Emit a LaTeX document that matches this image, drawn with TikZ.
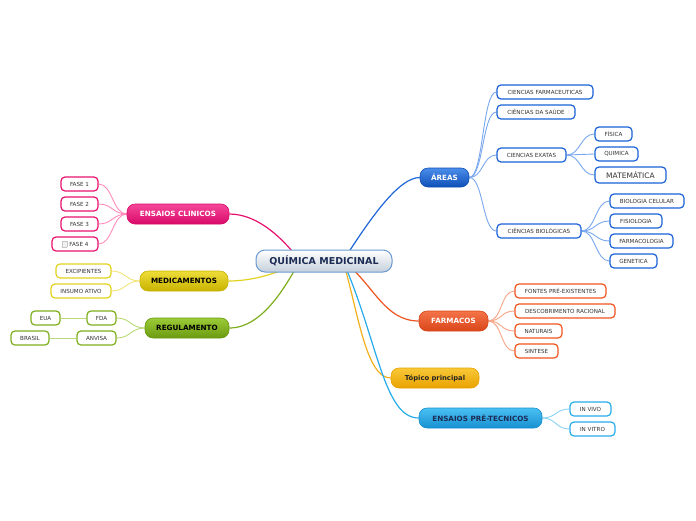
\documentclass[tikz,border=0pt]{standalone}
\usepackage{fontspec}
\setmainfont{DejaVu Sans}
\usetikzlibrary{backgrounds}
\definecolor{cBlue}{HTML}{1A62D6}
\definecolor{cBlueL}{HTML}{7AA8EE}
\definecolor{cBlueLine}{HTML}{1F66D8}
\definecolor{cBlueTop}{HTML}{4A8EEA}
\definecolor{cBlueBot}{HTML}{0F4FB8}
\definecolor{cPink}{HTML}{E8136F}
\definecolor{cPinkL}{HTML}{FF8CBB}
\definecolor{cPinkTop}{HTML}{F5479A}
\definecolor{cPinkBot}{HTML}{D80A68}
\definecolor{cYel}{HTML}{E3D21E}
\definecolor{cYelL}{HTML}{F2E57A}
\definecolor{cYelTop}{HTML}{EEDD3A}
\definecolor{cYelBot}{HTML}{C9B300}
\definecolor{cGrn}{HTML}{7DAE1C}
\definecolor{cGrnL}{HTML}{BAD97A}
\definecolor{cGrnTop}{HTML}{9CCB38}
\definecolor{cGrnBot}{HTML}{6A9A10}
\definecolor{cOrg}{HTML}{F0541E}
\definecolor{cOrgL}{HTML}{F8A585}
\definecolor{cOrgTop}{HTML}{F47448}
\definecolor{cOrgBot}{HTML}{D9461A}
\definecolor{cGold}{HTML}{F2B01C}
\definecolor{cGoldTop}{HTML}{F8C838}
\definecolor{cGoldBot}{HTML}{E9A200}
\definecolor{cSky}{HTML}{27ACEB}
\definecolor{cSkyL}{HTML}{8AD3F5}
\definecolor{cSkyTop}{HTML}{4AC0F2}
\definecolor{cSkyBot}{HTML}{1790D2}
\definecolor{cCenBorder}{HTML}{6A9AD0}
\definecolor{cCenBot}{HTML}{C5D0DB}
\definecolor{cCenText}{HTML}{1C2C55}
\definecolor{leaftext}{HTML}{333333}
\begin{document}
\begin{tikzpicture}[x=1pt,y=-1pt,
  leaf/.style={draw, line width=1.2pt, rounded corners=4pt, fill=white,
    minimum height=14pt, inner xsep=2pt, inner ysep=0pt,
    font=\fontsize{5.6}{6.5}\selectfont, text=leaftext},
  mainnode/.style={rounded corners=8pt, minimum height=20pt, inner xsep=2pt,
    inner ysep=0pt, font=\bfseries\fontsize{7.2}{8.5}\selectfont, draw, line width=0.6pt},
  branch/.style={line width=1.2pt},
  twig/.style={line width=0.9pt}
]
\useasboundingbox (0,0) rectangle (696,520);

% central node
\node[draw=cCenBorder, line width=1pt, rounded corners=9pt, top color=white, bottom color=cCenBot,
  minimum width=136pt, minimum height=22pt, inner sep=0pt, text=cCenText,
  font=\bfseries\fontsize{9.5}{11}\selectfont] (c) at (324,261) {QUÍMICA MEDICINAL};
\coordinate (cr) at ([xshift=19pt]c.center);
\coordinate (cl) at ([xshift=-24pt]c.center);

% ÁREAS
\node[mainnode, draw=cBlueBot, top color=cBlueTop, bottom color=cBlueBot, text=white, minimum width=49pt, minimum height=19pt] (areas) at (444.5,177.5) {ÁREAS};
\node[leaf, draw=cBlue, minimum width=96pt] (cf) at (545,92) {CIENCIAS FARMACEUTICAS};
\node[leaf, draw=cBlue, minimum width=78pt] (cs) at (536,112) {CIÊNCIAS DA SAÚDE};
\node[leaf, draw=cBlue, minimum width=69pt] (ce) at (531.5,155) {CIENCIAS EXATAS};
\node[leaf, draw=cBlue, minimum width=37pt] (fis) at (613.5,134) {FÍSICA};
\node[leaf, draw=cBlue, minimum width=43pt] (qui) at (616.5,154) {QUIMICA};
\node[leaf, draw=cBlue, minimum width=71pt, minimum height=16pt, font=\fontsize{7.5}{9}\selectfont] (mat) at (630.5,175) {MATEMÁTICA};
\node[leaf, draw=cBlue, minimum width=84pt] (cb) at (539,231) {CIÊNCIAS BIOLÓGICAS};
\node[leaf, draw=cBlue, minimum width=74pt] (bc) at (647,201) {BIOLOGIA CELULAR};
\node[leaf, draw=cBlue, minimum width=52pt] (fisio) at (636,221) {FISIOLOGIA};
\node[leaf, draw=cBlue, minimum width=63pt] (farmac) at (641.5,241) {FARMACOLOGIA};
\node[leaf, draw=cBlue, minimum width=47pt] (gen) at (633.5,261) {GENETICA};

% FARMACOS
\node[mainnode, draw=cOrgBot, top color=cOrgTop, bottom color=cOrgBot, text=white, minimum width=69pt] (farmacos) at (453.5,321) {FARMACOS};
\node[leaf, draw=cOrg, minimum width=91pt] (fpe) at (560.5,291) {FONTES PRÉ-EXISTENTES};
\node[leaf, draw=cOrg, minimum width=100pt] (dr) at (565,311) {DESCOBRIMENTO RACIONAL};
\node[leaf, draw=cOrg, minimum width=47pt] (nat) at (538.5,331) {NATURAIS};
\node[leaf, draw=cOrg, minimum width=43pt] (sin) at (536.5,351) {SINTESE};

% Tópico principal
\node[mainnode, draw=cGoldBot, top color=cGoldTop, bottom color=cGoldBot, text=black!85, minimum width=88pt, font=\bfseries\fontsize{6.8}{8}\selectfont] (topico) at (435,378) {Tópico principal};

% ENSAIOS PRÉ-TECNICOS
\node[mainnode, draw=cSkyBot, top color=cSkyTop, bottom color=cSkyBot, text=cCenText, minimum width=123pt] (pretec) at (480.5,418) {ENSAIOS PRÉ-TECNICOS};
\node[leaf, draw=cSky, minimum width=41pt] (vivo) at (590.5,409) {IN VIVO};
\node[leaf, draw=cSky, minimum width=45pt] (vitro) at (592.5,429) {IN VITRO};

% ENSAIOS CLINICOS
\node[mainnode, draw=cPinkBot, top color=cPinkTop, bottom color=cPinkBot, text=white, minimum width=102pt] (clin) at (178,214) {ENSAIOS CLINICOS};
\node[leaf, draw=cPink, minimum width=37pt] (f1) at (79.5,184) {FASE 1};
\node[leaf, draw=cPink, minimum width=37pt] (f2) at (79.5,204) {FASE 2};
\node[leaf, draw=cPink, minimum width=37pt] (f3) at (79.5,224) {FASE 3};
\node[leaf, draw=cPink, minimum width=46pt] (f4) at (75,244) {{\setlength\fboxsep{0pt}\setlength\fboxrule{0.4pt}\fcolorbox{gray!45}{gray!12}{\rule{5pt}{0pt}\rule{0pt}{5pt}}}\hspace{2pt}FASE 4};

% MEDICAMENTOS
\node[mainnode, draw=cYelBot, top color=cYelTop, bottom color=cYelBot, text=black, minimum width=88pt] (med) at (184,281) {MEDICAMENTOS};
\node[leaf, draw=cYel, minimum width=55pt] (exc) at (83.5,271) {EXCIPIENTES};
\node[leaf, draw=cYel, minimum width=60pt] (ins) at (81,291) {INSUMO ATIVO};

% REGULAMENTO
\node[mainnode, draw=cGrnBot, top color=cGrnTop, bottom color=cGrnBot, text=black, minimum width=84pt] (reg) at (187,328) {REGULAMENTO};
\node[leaf, draw=cGrn, minimum width=29pt] (fda) at (101.5,318) {FDA};
\node[leaf, draw=cGrn, minimum width=29pt] (eua) at (45.5,318) {EUA};
\node[leaf, draw=cGrn, minimum width=39pt] (anv) at (96.5,338) {ANVISA};
\node[leaf, draw=cGrn, minimum width=38pt] (bra) at (30,338) {BRASIL};

\begin{pgfonlayer}{background}
\fill[white] (0,0) rectangle (696,520);
% main branches
\draw[branch, cBlueLine] (cr) .. controls +(30,-47) and +(-20,0) .. (areas.west);
\draw[branch, cOrg] (cr) .. controls +(30,22) and +(-35,0) .. (farmacos.west);
\draw[branch, cGold] (cr) .. controls +(15,50) and +(-25,0) .. (topico.west);
\draw[branch, cSky] (cr) .. controls +(35,80) and +(-35,0) .. (pretec.west);
\draw[branch, cPink] (cl) .. controls +(-15,-20) and +(30,0) .. (clin.east);
\draw[branch, cYel] (cl) .. controls +(-20,12) and +(25,0) .. (med.east);
\draw[branch, cGrn] (cl) .. controls +(-12,20) and +(35,0) .. (reg.east);
% twigs right
\foreach \ch in {cf,cs,ce,cb}
  \draw[twig, cBlueL] (areas.east) .. controls +(14,0) and +(-14,0) .. (\ch.west);
\foreach \ch in {fis,qui,mat}
  \draw[twig, cBlueL] (ce.east) .. controls +(14,0) and +(-14,0) .. (\ch.west);
\foreach \ch in {bc,fisio,farmac,gen}
  \draw[twig, cBlueL] (cb.east) .. controls +(14,0) and +(-14,0) .. (\ch.west);
\foreach \ch in {fpe,dr,nat,sin}
  \draw[twig, cOrgL] (farmacos.east) .. controls +(14,0) and +(-14,0) .. (\ch.west);
\foreach \ch in {vivo,vitro}
  \draw[twig, cSkyL] (pretec.east) .. controls +(14,0) and +(-14,0) .. (\ch.west);
% twigs left
\foreach \ch in {f1,f2,f3,f4}
  \draw[twig, cPinkL] (clin.west) .. controls +(-14,0) and +(14,0) .. (\ch.east);
\foreach \ch in {exc,ins}
  \draw[twig, cYelL] (med.west) .. controls +(-14,0) and +(14,0) .. (\ch.east);
\foreach \ch in {fda,anv}
  \draw[twig, cGrnL] (reg.west) .. controls +(-14,0) and +(14,0) .. (\ch.east);
\draw[twig, cGrnL] (fda.west) -- (eua.east);
\draw[twig, cGrnL] (anv.west) -- (bra.east);
\end{pgfonlayer}
\end{tikzpicture}
\end{document}
